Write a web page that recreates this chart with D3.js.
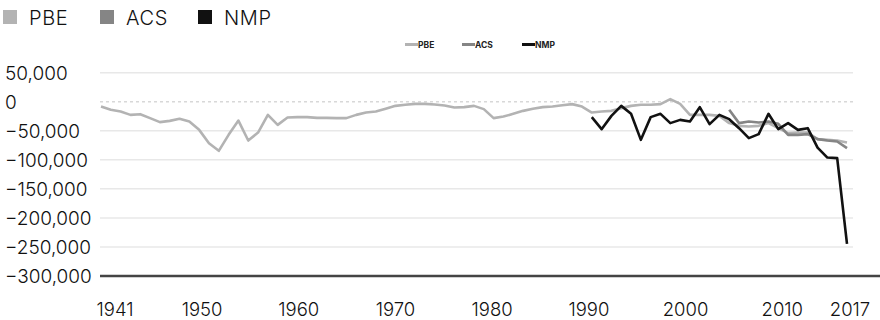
<!DOCTYPE html>
<html><head><meta charset="utf-8">
<script src="https://cdn.jsdelivr.net/npm/d3@7"></script>
<style>
html,body{margin:0;padding:0;background:#fff;}
svg{display:block;}
text{font-family:Inter,Lato,"Noto Sans",sans-serif;}
</style></head>
<body><svg id="c" width="880" height="320"></svg>
<script>
const seriesNames = ["PBE","ACS","NMP"];
const seriesColors = ["#b3b3b3","#858585","#111111"];
const pbeYears = d3.range(1941, 2018);
const pbeValues = [-8300,-13900,-16900,-22600,-21400,-28200,-35100,-32900,-29400,-34100,
 -48400,-71300,-84500,-57000,-32400,-66800,-53000,-22600,-39800,-27200,
 -26500,-26500,-27700,-27700,-28200,-28200,-22600,-18600,-16900,-12200,
 -7100,-5300,-3600,-3600,-4800,-6500,-10000,-9300,-7100,-12700,
 -28200,-25500,-20800,-15700,-12200,-9300,-8300,-5900,-4100,-8300,
 -18600,-16900,-15700,-11000,-7100,-5300,-5300,-4100,4500,-3600,
 -22600,-22600,-22600,-24300,-36800,-41500,-42700,-41500,-36800,-45500,
 -54100,-53000,-53000,-64400,-65600,-66800,-70300];
const acsYears = d3.range(2005, 2018);
const acsValues = [-13900,-36800,-34100,-35800,-34100,-38000,-57000,-57000,-55800,-64400,-66800,-68500,-79900];
const nmpYears = d3.range(1991, 2018);
const nmpValues = [-26500,-47200,-24300,-7100,-20800,-65600,-26500,-20800,-36800,-31200,
 -34100,-9300,-38600,-22600,-30000,-45500,-62700,-55800,-20800,-47200,
 -36800,-48400,-45500,-78900,-96100,-97100,-244700];
const yTicks = [50000,0,-50000,-100000,-150000,-200000,-250000,-300000];
const xTickLabels = [1941,1950,1960,1970,1980,1990,2000,2010,2017];

const svg = d3.select("#c");
const x = d3.scaleLinear().domain([1941, 2017]).range([101, 847]);      // inner chart image
const xLab = d3.scaleLinear().domain([1941, 2017]).range([115, 850]);   // outer axis labels
const y = d3.scaleLinear().domain([-300000, 50000]).range([276, 72.7]);
const fmt = d3.format(",");

// Outer legend
const leg = svg.append("g");
const legX = [3, 100, 198];
seriesNames.forEach((n,i)=>{
  const g = leg.append("g").attr("transform",`translate(${legX[i]},0)`);
  g.append("rect").attr("x",0).attr("y",10).attr("width",14).attr("height",14).attr("fill",seriesColors[i]);
  g.append("text").attr("x",26).attr("y",24.5).attr("font-size",20).attr("font-weight",300)
    .attr("letter-spacing",0.6).attr("fill","#111").text(n);
});

// Inner mini legend
const mleg = svg.append("g");
const mlegX = [405, 462, 522];
seriesNames.forEach((n,i)=>{
  mleg.append("line").attr("x1",mlegX[i]).attr("x2",mlegX[i]+13).attr("y1",44.5).attr("y2",44.5)
    .attr("stroke",seriesColors[i]).attr("stroke-width",3);
  mleg.append("text").attr("x",mlegX[i]+13).attr("y",47.5).attr("font-size",8.5).attr("font-weight","bold")
    .attr("font-family","'Liberation Sans Narrow','DejaVu Sans Condensed',sans-serif").attr("fill","#222").text(n);
});

// Gridlines
const grid = svg.append("g");
yTicks.filter(t=>t>-300000).forEach(t=>{
  grid.append("line").attr("x1",100).attr("x2",853).attr("y1",y(t)).attr("y2",y(t))
    .attr("stroke", t===0 ? "#d8d8d8" : "#e8e8e8").attr("stroke-width",1.5)
    .attr("stroke-dasharray", t===0 ? "3,3" : null);
});

// Baseline
svg.append("line").attr("x1",100).attr("x2",880).attr("y1",y(-300000)).attr("y2",y(-300000))
  .attr("stroke","#444").attr("stroke-width",2.5);

// Y labels
svg.append("g").selectAll("text").data(yTicks).join("text")
  .attr("x",5).attr("y",d=>y(d)).attr("dy","0.36em").attr("font-size",19).attr("font-weight",300)
  .attr("fill","#111").text(d=>fmt(d));

// X labels
svg.append("g").selectAll("text").data(xTickLabels).join("text")
  .attr("x",d=>xLab(d)).attr("y",316).attr("text-anchor","middle").attr("font-size",18.5).attr("font-weight",300)
  .attr("fill","#111").text(d=>d);

// Lines
const line = d3.line().x(d=>x(d[0])).y(d=>y(d[1]));
const data = [d3.zip(pbeYears,pbeValues), d3.zip(acsYears,acsValues), d3.zip(nmpYears,nmpValues)];
data.forEach((s,i)=>{
  svg.append("path").datum(s).attr("d",line).attr("fill","none")
    .attr("stroke",seriesColors[i]).attr("stroke-width",2.6)
    .attr("stroke-linejoin","round");
});
</script></body></html>
